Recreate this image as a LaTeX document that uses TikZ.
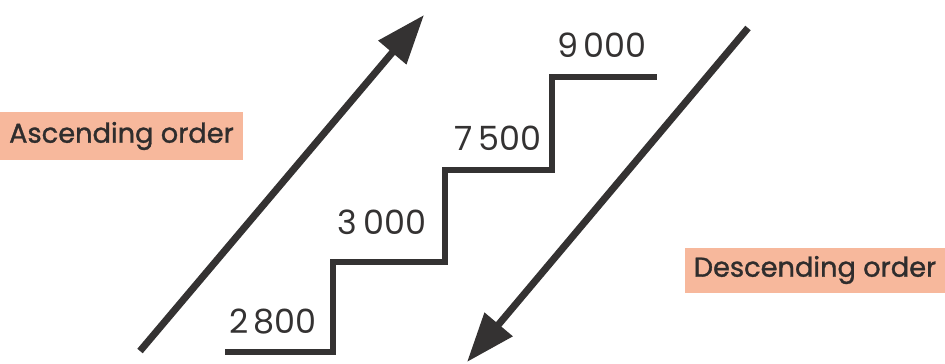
\documentclass[tikz,border=0pt]{standalone}
\usepackage{fontspec}
\setmainfont{Poppins}
\newfontfamily\tagfont{Poppins}[FakeBold=1.2]
\usepackage{tikz}
\usetikzlibrary{arrows.meta}
\definecolor{ink}{RGB}{52,50,50}
\definecolor{tagfill}{RGB}{247,184,156}

\tikzset{
	steplabel/.style = {font=\fontsize{19}{19}\selectfont, text=ink, inner sep=0pt},
	ordertag/.style = {fill=tagfill, text=ink!90!black, inner sep=0pt, font=\tagfont\fontsize{15.5}{15.5}\selectfont},
	bigarrow/.style = {-{Triangle[length=28pt, width=20pt]}, line width=4pt, draw=ink}
}

\begin{document}
\begin{tikzpicture}[x=0.02cm, y=-0.02cm]
	\useasboundingbox (0, 0) rectangle (945, 363);
	% staircase
	\draw [ink, line width=3pt] (225, 352) -- (333, 352) -- (333, 262) -- (445, 262)
		-- (445, 170) -- (552, 170) -- (552, 77) -- (657, 77);
	\node [steplabel] (s2800) at (273, 322) {2\,800};
	\node [steplabel] (s3000) at (382, 222) {3\,000};
	\node [steplabel] (s7500) at (498, 138) {7\,500};
	\node [steplabel] (s9000) at (602, 45) {9\,000};
	% arrows
	\coordinate (ascFrom) at (140, 351);
	\coordinate (ascTo) at (424, 15);
	\draw [bigarrow] (ascFrom) -- (ascTo);
	\coordinate (descFrom) at (748, 28);
	\coordinate (descTo) at (467, 362);
	\draw [bigarrow] (descFrom) -- (descTo);
	% tags
	\node [ordertag, minimum width=243*0.02cm, minimum height=48*0.02cm] (asc) at (121.5, 136) {Ascending order};
	\node [ordertag, minimum width=260*0.02cm, minimum height=45*0.02cm] (desc) at (815, 270) {Descending order};
\end{tikzpicture}
\end{document}
